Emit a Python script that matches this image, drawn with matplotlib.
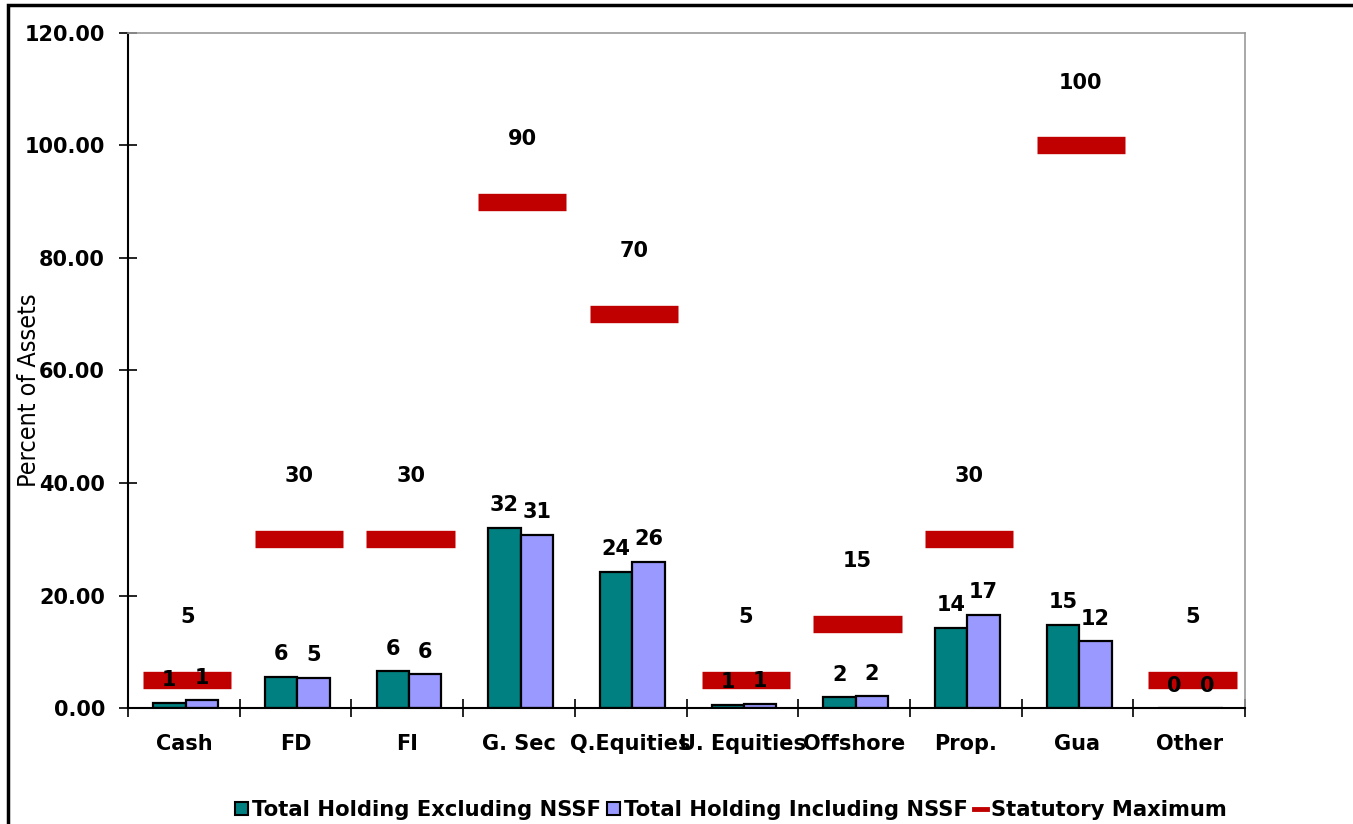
import matplotlib
matplotlib.use("Agg")
import matplotlib.pyplot as plt
from matplotlib.patches import Patch, Rectangle
from matplotlib.lines import Line2D
import numpy as np

categories = ["Cash", "FD", "FI", "G. Sec", "Q.Equities", "U. Equities",
              "Offshore", "Prop.", "Gua", "Other"]
excl_nssf = [0.9, 5.6, 6.5, 32.0, 24.2, 0.55, 1.9, 14.3, 14.8, 0.0]
incl_nssf = [1.4, 5.4, 6.0, 30.8, 26.0, 0.8, 2.1, 16.6, 11.9, 0.0]
stat_max = [5, 30, 30, 90, 70, 5, 15, 30, 100, 5]

teal = "#008080"
lilac = "#9999FF"
dark_red = "#C00000"

plt.rcParams["font.family"] = ["DejaVu Sans"]

fig = plt.figure(figsize=(13.53, 8.24), dpi=100)
ax = fig.add_axes([128 / 1353, 1 - 708 / 824, (1245 - 128) / 1353, (708 - 33) / 824])

x = np.arange(len(categories))
w = 0.29
b1 = ax.bar(x - w / 2 + 0.015, excl_nssf, w, color=teal, edgecolor="black", lw=1.6, zorder=2)
b2 = ax.bar(x + w / 2 + 0.015, incl_nssf, w, color=lilac, edgecolor="black", lw=1.6, zorder=2)

# statutory maximum shown as thick horizontal dashes
ax.hlines(stat_max, x - 0.365, x + 0.425, colors=dark_red, lw=12.5, capstyle="butt", zorder=3)
for xi, v in zip(x, stat_max):
    ax.annotate(f"{v:.0f}", (xi + 0.03, v), xytext=(0, 38), textcoords="offset points",
                ha="center", va="bottom", fontsize=15, fontweight="bold", zorder=5)

for bars in (b1, b2):
    ax.bar_label(bars, fmt="%.0f", padding=9, fontsize=15, fontweight="bold", zorder=5)

ax.set_xlim(-0.5, len(categories) - 0.5)
ax.set_ylim(0, 120)
ax.set_yticks(np.arange(0, 121, 20))
ax.yaxis.set_major_formatter(matplotlib.ticker.FormatStrFormatter("%.2f"))
ax.tick_params(axis="y", direction="inout", length=13, width=1.2, pad=10,
               labelsize=15)
for lab in ax.get_yticklabels():
    lab.set_fontweight("bold")

ax.set_xticks(np.arange(-0.5, len(categories), 1.0))
ax.set_xticklabels([])
ax.set_xticks(x, minor=True)
ax.set_xticklabels(categories, minor=True, fontsize=15, fontweight="bold")
ax.tick_params(axis="x", which="major", direction="inout", length=13, width=1.2)
ax.tick_params(axis="x", which="minor", length=0, pad=19)

for s in ("left", "bottom"):
    ax.spines[s].set_linewidth(1.5)
for s in ("top", "right"):
    ax.spines[s].set_color("#999999")
    ax.spines[s].set_linewidth(1.2)

fig.text(29 / 1353, 1 - 390 / 824, "Percent of Assets", rotation=90, ha="center", va="center",
         fontsize=18, fontstretch="condensed", family=["DejaVu Sans"])

handles = [
    Patch(facecolor=teal, edgecolor="black", lw=1.5),
    Patch(facecolor=lilac, edgecolor="black", lw=1.5),
    Line2D([0], [0], color=dark_red, lw=3.5),
]
labels = ["Total Holding Excluding NSSF", "Total Holding Including NSSF", "Statutory Maximum"]
fig.legend(handles, labels, loc="center", bbox_to_anchor=(731 / 1353, 1 - 810 / 824), ncol=3,
           frameon=False, prop={"size": 15.2, "weight": "bold"}, handlelength=0.6,
           handleheight=0.6, handletextpad=0.2, columnspacing=0.3, borderaxespad=0)

# black frame round the figure
fig.patches.append(Rectangle((8 / 1353, -0.1), 1.2, 1.1 - 5 / 824, transform=fig.transFigure,
                             fill=False, edgecolor="black", lw=2.5))

fig.savefig("out.png", dpi=100)
